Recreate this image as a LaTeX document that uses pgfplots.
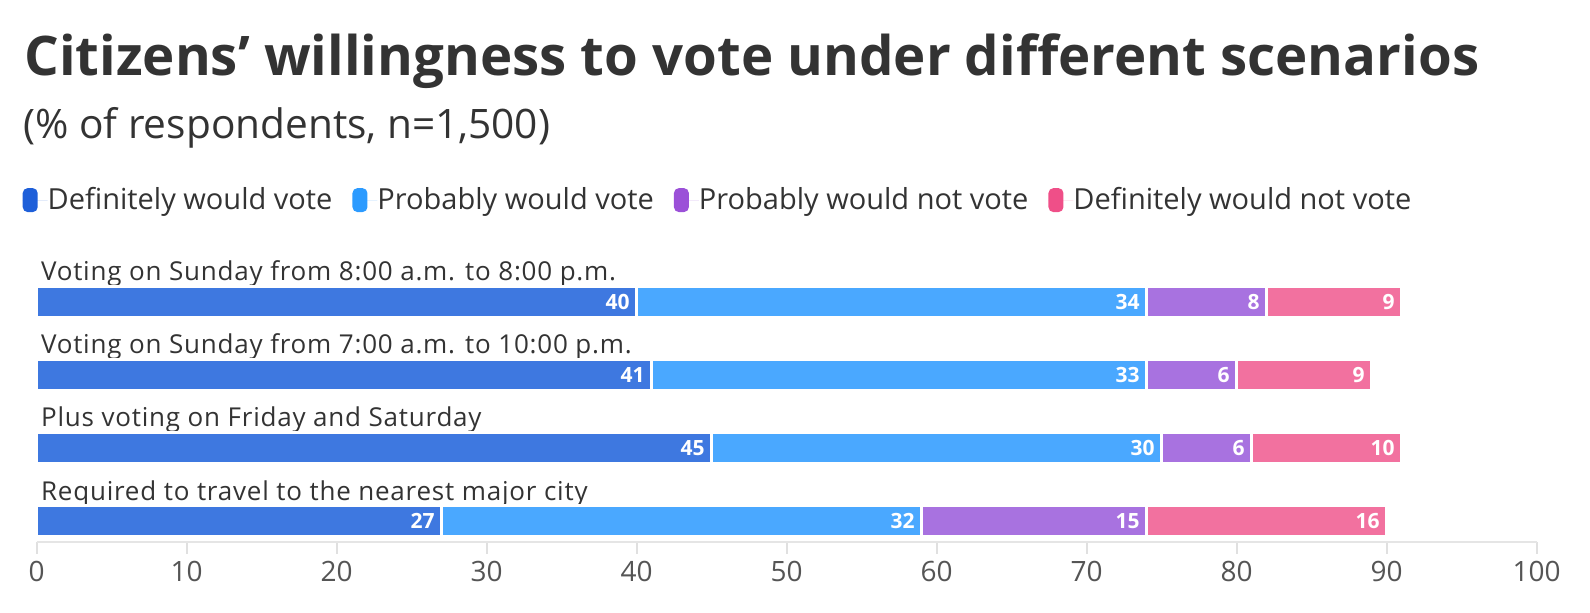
\documentclass[border=0pt]{standalone}
\usepackage{fontspec}
\setmainfont{Open Sans}
\newfontfamily\catfont[LetterSpace=3]{Open Sans}
\usepackage{pgfplots}
\pgfplotsset{compat=1.18}
\definecolor{txt}{HTML}{333333}
\definecolor{ticktxt}{HTML}{555555}
\definecolor{cA}{HTML}{3E78E0}
\definecolor{cB}{HTML}{4AA8FF}
\definecolor{cC}{HTML}{A872E0}
\definecolor{cD}{HTML}{F2719F}
\definecolor{lA}{HTML}{1E5FD9}
\definecolor{lB}{HTML}{2C9BFF}
\definecolor{lC}{HTML}{9B50D8}
\definecolor{lD}{HTML}{EF4F88}
\tikzset{catlab/.style={anchor=base west, inner sep=0, xshift=2pt, font=\catfont\fontsize{13}{15}\selectfont, text=txt}}
\pgfplotsset{
  common/.style={
    at={(18.35pt,-270.85pt)}, anchor=south west,
    scale only axis, width=750pt, height=141.9pt,
    xmin=0, xmax=100, ymin=-0.283, ymax=3.6,
    clip=false,
  },
  legbox/.style={draw=none, fill=#1,
    legend image code/.code={\fill[fill=#1, draw=none, rounded corners=2.5pt] (0pt,-6pt) rectangle (7.5pt,6pt); \path (0pt,0pt) -- (12.5pt,0pt);}},
}
\begin{document}
\begin{tikzpicture}[x=1pt,y=1pt]
\path[use as bounding box] (0,0) rectangle (795,-306);
\node[anchor=base west, inner sep=0, font=\bfseries\fontsize{27.3}{32}\selectfont, text=txt] at (12,-37.5) {Citizens’ willingness to vote under different scenarios};
\node[anchor=base west, inner sep=0, font=\fontsize{20.3}{24}\selectfont, text=txt] at (11.5,-69.2) {(\% of respondents, n=1,500)};
\begin{axis}[
  common,
  xbar stacked, bar width=15.25pt,
  axis y line=none, axis x line*=bottom,
  x axis line style={-, draw=black!10, line width=1pt},
  xtick={0,10,...,100}, tick align=outside, major tick length=6pt,
  tick style={black!12, line width=0.8pt},
  ytick=\empty,
  xticklabel style={font=\fontsize{14}{16}\selectfont, text=ticktxt},
  /pgf/number format/assume math mode=true,
  every axis plot/.append style={draw=white, line width=1.5pt},
  legend columns=4,
  legend style={at={(0,1)}, anchor=west, xshift=-7.2pt, yshift=28.9pt, draw=none, fill=none, inner sep=0pt,
    font=\fontsize{14.5}{17}\selectfont, text=txt,
    nodes={inner sep=0pt, anchor=west},
    /tikz/every even column/.append style={column sep=10pt}},
]
\addlegendimage{legbox=lA}
\addlegendimage{legbox=lB}
\addlegendimage{legbox=lC}
\addlegendimage{legbox=lD}
\legend{Definitely would vote, Probably would vote, Probably would not vote, Definitely would not vote}
\addplot[fill=cA, forget plot] coordinates {(40,3) (41,2) (45,1) (27,0)};
\addplot[fill=cB, forget plot] coordinates {(34,3) (33,2) (30,1) (32,0)};
\addplot[fill=cC, forget plot] coordinates {(8,3) (6,2) (6,1) (15,0)};
\addplot[fill=cD, forget plot] coordinates {(9,3) (9,2) (10,1) (16,0)};
\node[catlab] at (axis cs:0,3.287) {Voting on Sunday from 8:00 a.m. to 8:00 p.m.};
\node[catlab] at (axis cs:0,2.287) {Voting on Sunday from 7:00 a.m. to 10:00 p.m.};
\node[catlab] at (axis cs:0,1.287) {Plus voting on Friday and Saturday};
\node[catlab] at (axis cs:0,0.287) {Required to travel to the nearest major city};
\end{axis}
% value labels: placed at segment ends (cumulative), showing segment values
\begin{axis}[
  common, hide axis,
  /pgf/number format/assume math mode=true,
  point meta=explicit,
  nodes near coords,
  nodes near coords style={anchor=east, text=white, inner sep=0pt, xshift=-3.3pt, font=\bfseries\fontsize{10.5}{12}\selectfont},
]
\addplot[draw=none, mark=none] coordinates {(40,3) [40] (74,3) [34] (82,3) [8] (91,3) [9]};
\addplot[draw=none, mark=none] coordinates {(41,2) [41] (74,2) [33] (80,2) [6] (89,2) [9]};
\addplot[draw=none, mark=none] coordinates {(45,1) [45] (75,1) [30] (81,1) [6] (91,1) [10]};
\addplot[draw=none, mark=none] coordinates {(27,0) [27] (59,0) [32] (74,0) [15] (90,0) [16]};
\end{axis}
\end{tikzpicture}
\end{document}
